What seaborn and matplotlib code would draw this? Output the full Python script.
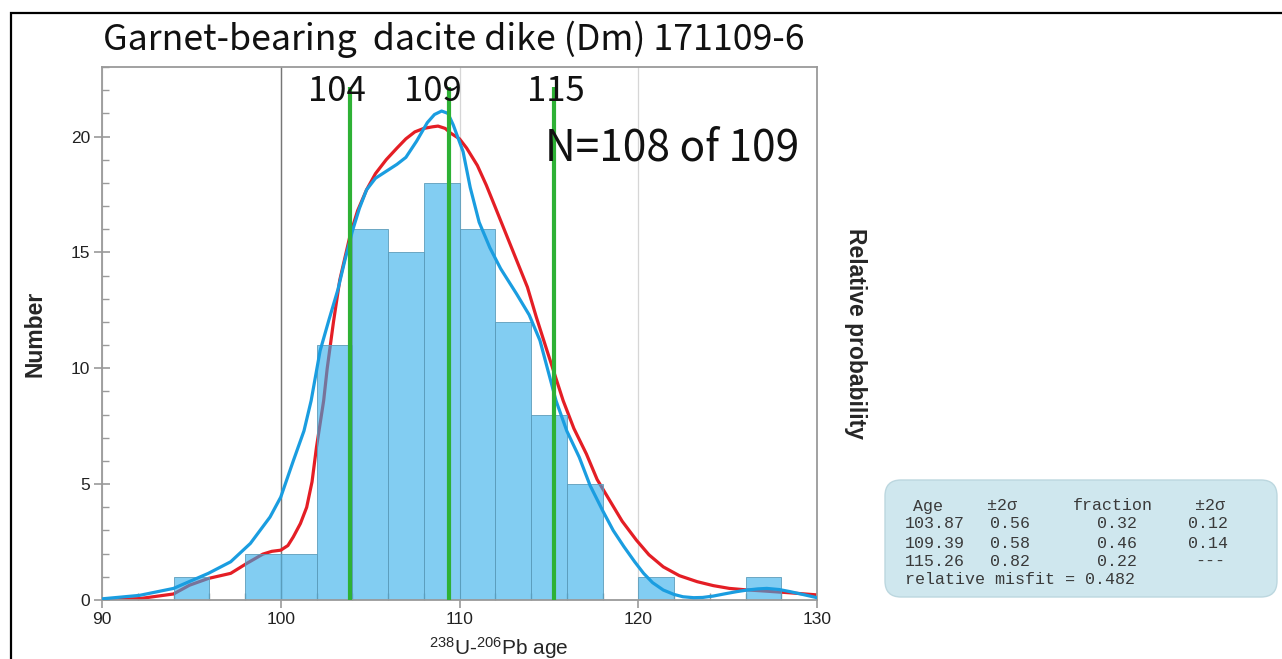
import numpy as np
import pandas as pd
import matplotlib
matplotlib.use("Agg")
import matplotlib.pyplot as plt
import seaborn as sns
from matplotlib.patches import FancyBboxPatch, Rectangle
from matplotlib.transforms import IdentityTransform
from matplotlib.ticker import MultipleLocator

# ---------------- data ----------------
title = "Garnet-bearing  dacite dike (Dm) 171109-6"
n_text = "N=108 of 109"

bin_starts = [94, 96, 98, 100, 102, 104, 106, 108, 110, 112, 114, 116, 118, 120, 122, 124, 126]
bin_counts = [1, 0, 2, 2, 11, 16, 15, 18, 16, 12, 8, 5, 0, 1, 0, 0, 1]
bin_width = 2

# probability density curve (blue)
kde_x = [90, 92.1, 94.0, 95.95, 97.2, 98.3, 99.4, 100.0, 100.7, 101.3, 101.7, 102.2, 102.7, 103.2,
         103.6, 104.0, 104.4, 104.8, 105.3, 105.9, 106.5, 107.0, 107.6, 108.2, 108.6, 109.0,
         109.35, 109.65, 110.2, 110.6, 111.1, 111.7, 112.3, 113.2, 113.9, 114.5,
         115.4, 116.0, 116.7, 117.3, 118.0, 118.6, 119.2, 119.8, 120.3, 120.8, 121.4, 122.0,
         122.5, 123.1, 123.6, 124.2, 124.8, 125.5, 126.1, 126.7, 127.2, 127.9, 128.5, 129.2, 130]
kde_y = [0.05, 0.2, 0.5, 1.15, 1.65, 2.44, 3.58, 4.44, 6.0, 7.3, 8.6, 10.75, 12.1, 13.4,
         14.7, 15.9, 16.9, 17.7, 18.2, 18.5, 18.8, 19.1, 19.8, 20.6, 20.95, 21.1,
         21.0, 20.5, 19.35, 17.8, 16.3, 15.2, 14.3, 13.2, 12.3, 11.2,
         8.6, 7.3, 6.16, 4.95, 3.87, 3.0, 2.3, 1.65, 1.15, 0.75, 0.43, 0.24,
         0.14, 0.1, 0.11, 0.17, 0.26, 0.36, 0.43, 0.48, 0.5, 0.45, 0.36, 0.24, 0.1]

# mixture model curve (red)
mix_x = [90, 92.1, 94.0, 94.9, 95.95, 97.2, 98.1, 99.0, 99.5, 100.0, 100.4, 100.7, 101.1, 101.45,
         101.75, 102.0, 102.2, 102.4, 102.6, 102.95, 103.3, 103.9, 104.3, 104.8, 105.3, 105.9,
         106.5, 107.0, 107.5, 108.0, 108.5, 108.8, 109.2, 109.5, 110.0, 110.4, 111.0, 111.5,
         112.0, 112.6, 113.2, 113.8, 114.3, 114.9, 115.8, 116.4, 117.1, 117.7, 118.4, 119.1,
         119.9, 120.6, 121.4, 122.3, 123.3, 124.2, 125.1, 126.0, 127.0, 128.5, 130]
mix_y = [0.02, 0.06, 0.26, 0.64, 0.93, 1.15, 1.58, 1.98, 2.1, 2.15, 2.35, 2.72, 3.3, 4.0,
         5.1, 6.6, 7.6, 8.6, 10.0, 12.0, 13.8, 15.8, 16.8, 17.7, 18.4, 19.0,
         19.5, 19.9, 20.2, 20.35, 20.42, 20.45, 20.35, 20.15, 19.9, 19.5, 18.75, 17.9,
         16.95, 15.8, 14.65, 13.5, 12.2, 10.75, 8.6, 7.4, 6.3, 5.2, 4.3, 3.4,
         2.58, 1.95, 1.43, 1.05, 0.79, 0.62, 0.5, 0.44, 0.39, 0.31, 0.22]

peak_ages = [103.87, 109.39, 115.26]
peak_labels = ["104", "109", "115"]

table_header = ["Age", "\u00b12\u03c3", "fraction", "\u00b12\u03c3"]
table_age = ["103.87", "109.39", "115.26"]
table_age_sig = ["0.56", "0.58", "0.82"]
table_frac = ["0.32", "0.46", "0.22"]
table_frac_sig = ["0.12", "0.14", "---"]
table_footer = "relative misfit = 0.482"

# ---------------- style ----------------
sns.set_style("ticks")
plt.rcParams["font.family"] = ["Liberation Sans", "DejaVu Sans"]
plt.rcParams["mathtext.fontset"] = "custom"
plt.rcParams["mathtext.rm"] = "Liberation Sans"
plt.rcParams["mathtext.it"] = "Liberation Sans:italic"
plt.rcParams["mathtext.bf"] = "Liberation Sans:bold"

W, H = 1282, 659
fig = plt.figure(figsize=(W / 100, H / 100), dpi=100)
ax = fig.add_axes([102 / W, (H - 600) / H, 715 / W, 533 / H])

spine_c = "#9a9a9a"

# red mixture curve (under the bars)
sns.lineplot(x=mix_x, y=mix_y, color="#e41e25", lw=2.3, ax=ax, zorder=1)

# histogram
edges = bin_starts + [bin_starts[-1] + bin_width]
centers = [b + bin_width / 2 for b in bin_starts]
sns.histplot(x=centers, weights=bin_counts, bins=edges, color="#2facea", alpha=0.6,
             edgecolor="#5d9dbb", linewidth=0.6, ax=ax, zorder=2)

# blue density curve
sns.lineplot(x=kde_x, y=kde_y, color="#1a9de0", lw=2.3, ax=ax, zorder=3)

# green peak lines
for a in peak_ages:
    ax.plot([a, a], [0, 22.15], color="#2eb135", lw=3.0, zorder=4, solid_capstyle="butt")

label_x = [103.15, 108.52, 115.4]
for lx, lab in zip(label_x, peak_labels):
    ax.text(lx, 21.55, lab, ha="center", va="baseline", fontsize=25,
            family=["Noto Sans CJK JP", "DejaVu Sans"], color="#111111", zorder=5)

ax.set_xlim(90, 130)
ax.set_ylim(0, 23)
ax.xaxis.set_major_locator(MultipleLocator(10))
ax.xaxis.set_minor_locator(MultipleLocator(2))
ax.yaxis.set_major_locator(MultipleLocator(5))
ax.yaxis.set_minor_locator(MultipleLocator(1))
ax.tick_params(axis="both", which="major", direction="inout", length=11, width=1.2,
               color=spine_c, labelsize=12.5, labelcolor="#222222", pad=3)
ax.tick_params(axis="both", which="minor", direction="in", length=5, width=1.0, color=spine_c)
ax.tick_params(axis="x", which="major", direction="out", length=6)

ax.grid(axis="x", which="major", color="#d6d6d6", lw=0.9, zorder=0)
ax.set_axisbelow(True)
dark_grid = [100]
for g in dark_grid:
    ax.axvline(g, color="#767676", lw=1.0, zorder=0.8)

for s in ax.spines.values():
    s.set_color(spine_c)
    s.set_linewidth(1.3)

ax.set_xlabel(r"$^{238}$U-$^{206}$Pb age", fontsize=15)
ax.xaxis.set_label_coords(0.555, -0.066)
ax.set_ylabel("Number", fontsize=16.5, fontweight="bold")
ax.yaxis.set_label_coords(-0.077, 0.5)

fig.text(855 / W, 1 - 333 / H, "Relative probability", rotation=-90, ha="center", va="center",
         fontsize=16.5, fontweight="bold")

fig.text(103 / W, 1 - 50 / H, title, ha="left", va="baseline", fontsize=25.7,
         family=["Noto Sans CJK JP", "DejaVu Sans"], color="#111111")
fig.text(545 / W, 1 - 161 / H, n_text, ha="left", va="baseline", fontsize=30.5,
         family=["Noto Sans CJK JP", "DejaVu Sans"], color="#111111")

# outer frame
frame = Rectangle((11, -20), 1400, 646 + 20, transform=IdentityTransform(), fill=False,
                  edgecolor="black", lw=1.6)
fig.add_artist(frame)

# results box
box = FancyBboxPatch((885, H - 597), 392, 117, boxstyle="round,pad=0,rounding_size=16",
                     transform=IdentityTransform(), facecolor="#cfe7ee", edgecolor="#bcd7df", lw=1)
fig.add_artist(box)

mono = ["Liberation Mono", "DejaVu Sans Mono"]
tc = "#3a3a3a"
fs = 12
row_y = [506, 524, 543, 561, 580]
col_x_head = [913, 987, 1073, 1195]
for cx, t in zip(col_x_head, table_header):
    fig.text(cx / W, 1 - row_y[0] / H, t, ha="left", va="center", fontsize=fs, family=mono, color=tc)
col_x = [905, 990, 1097, 1188]
for i in range(3):
    vals = [table_age[i], table_age_sig[i], table_frac[i], table_frac_sig[i]]
    for j, (cx, t) in enumerate(zip(col_x, vals)):
        x = cx
        if t == "---":
            x = 1195
        fig.text(x / W, 1 - row_y[i + 1] / H, t, ha="left", va="center", fontsize=fs, family=mono, color=tc)
fig.text(905 / W, 1 - row_y[4] / H, table_footer, ha="left", va="center", fontsize=fs, family=mono, color=tc)

fig.savefig("out.png", dpi=100)
